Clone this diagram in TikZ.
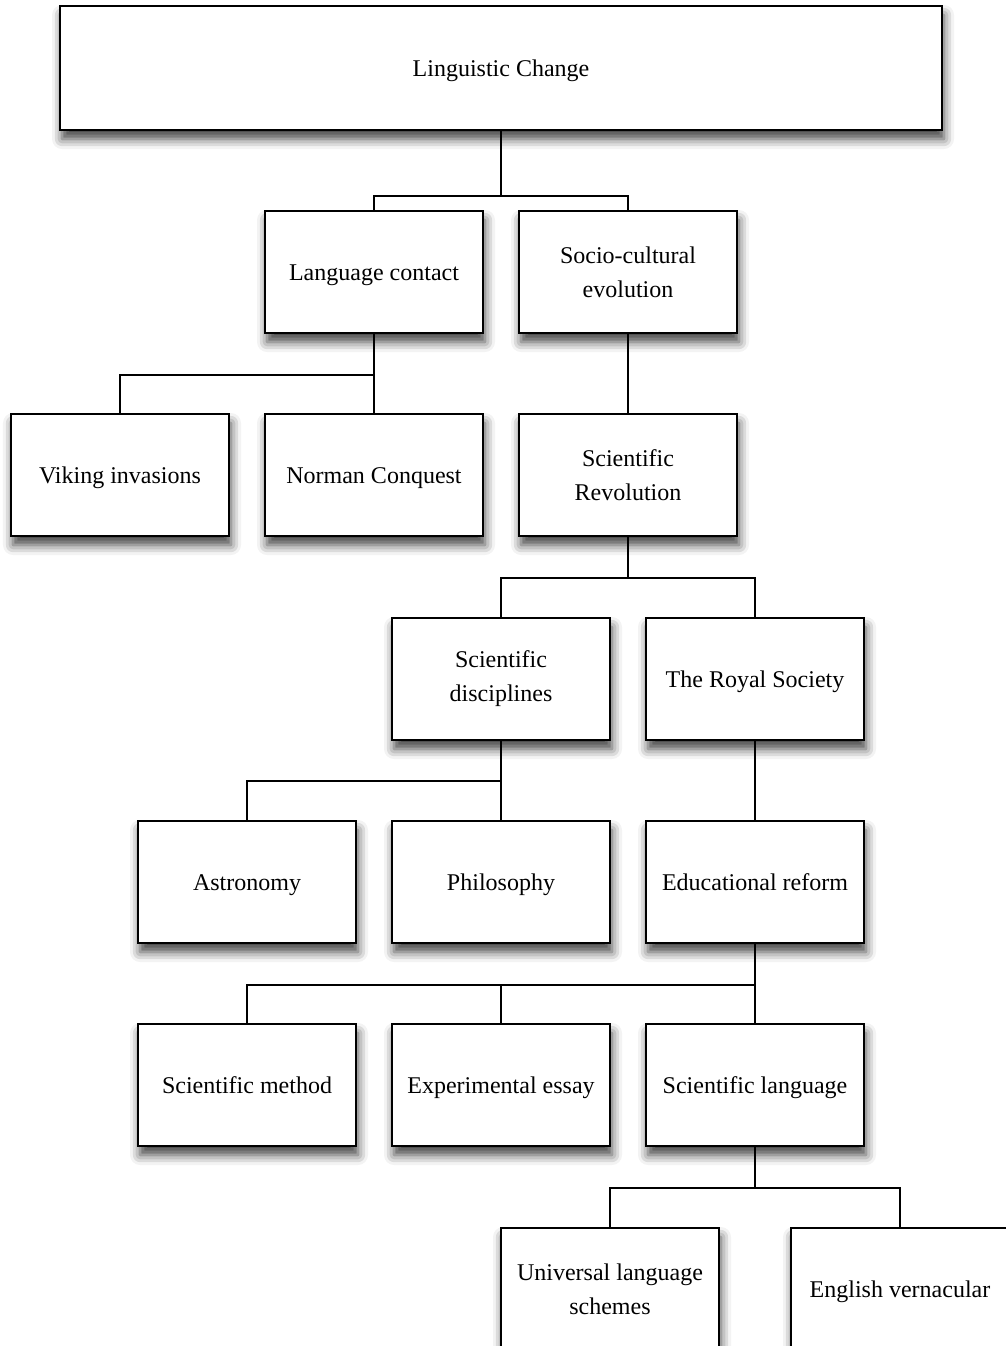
\documentclass[tikz,border=0pt]{standalone}
\usepackage{fontspec}
\setmainfont{Liberation Serif}
\usetikzlibrary{shadows.blur}

\begin{document}
\begin{tikzpicture}[
  x=0.5pt, y=-0.5pt,
  every node/.style={font=\fontsize{12}{17}\selectfont},
  topicbox/.style={rectangle, draw=black, line width=1pt, fill=white, text=black, align=center,
    minimum width=109pt, minimum height=61pt, inner sep=2pt,
    blur shadow={shadow xshift=1pt, shadow yshift=-4.5pt, shadow blur radius=5pt, shadow opacity=75}},
  onebox/.style={topicbox, text height=9.6pt, text depth=1.4pt},
  rootbox/.style={onebox, minimum width=441pt, minimum height=62pt},
  link/.style={line width=0.8pt, black},
]
\useasboundingbox (0,0) rectangle (1006,1346);

% ---- root ----
\node[rootbox] (lchange) at (501, 68) {Linguistic Change};

% ---- second level ----
\node[onebox]   (lcontact) at (374, 272) {Language contact};
\node[topicbox] (socio)    at (628, 272) {Socio-cultural\\evolution};

% ---- third level ----
\node[onebox]   (viking) at (120, 475) {Viking invasions};
\node[onebox]   (norman) at (374, 475) {Norman Conquest};
\node[topicbox] (screv)  at (628, 475) {Scientific\\Revolution};

% ---- fourth level ----
\node[topicbox] (scdisc) at (501, 679) {Scientific\\disciplines};
\node[onebox]   (royal)  at (755, 679) {The Royal Society};

% ---- fifth level ----
\node[onebox] (astro)  at (247, 882) {Astronomy};
\node[onebox] (philo)  at (501, 882) {Philosophy};
\node[onebox] (edref)  at (755, 882) {Educational reform};

% ---- sixth level ----
\node[onebox] (scmeth) at (247, 1085) {Scientific method};
\node[onebox] (expess) at (501, 1085) {Experimental essay};
\node[onebox] (sclang) at (755, 1085) {Scientific language};

% ---- seventh level (cut at the page edge) ----
\node[topicbox] (univ) at (610, 1289) {Universal language\\schemes};
\node[onebox]   (engv) at (900, 1289) {English vernacular};

% ---- connectors ----
\draw[link] (lchange.south) -- +(0,65) -| (lcontact.north);
\draw[link] (lchange.south) -- +(0,65) -| (socio.north);
\draw[link] (lcontact.south) -- +(0,41) -| (viking.north);
\draw[link] (lcontact.south) -- (norman.north);
\draw[link] (socio.south) -- (screv.north);
\draw[link] (screv.south) -- +(0,41) -| (scdisc.north);
\draw[link] (screv.south) -- +(0,41) -| (royal.north);
\draw[link] (scdisc.south) -- +(0,40) -| (astro.north);
\draw[link] (scdisc.south) -- (philo.north);
\draw[link] (royal.south) -- (edref.north);
\draw[link] (edref.south) -- +(0,41) -| (scmeth.north);
\draw[link] (edref.south) -- +(0,41) -| (expess.north);
\draw[link] (edref.south) -- (sclang.north);
\draw[link] (sclang.south) -- +(0,41) -| (univ.north);
\draw[link] (sclang.south) -- +(0,41) -| (engv.north);

\end{tikzpicture}
\end{document}
